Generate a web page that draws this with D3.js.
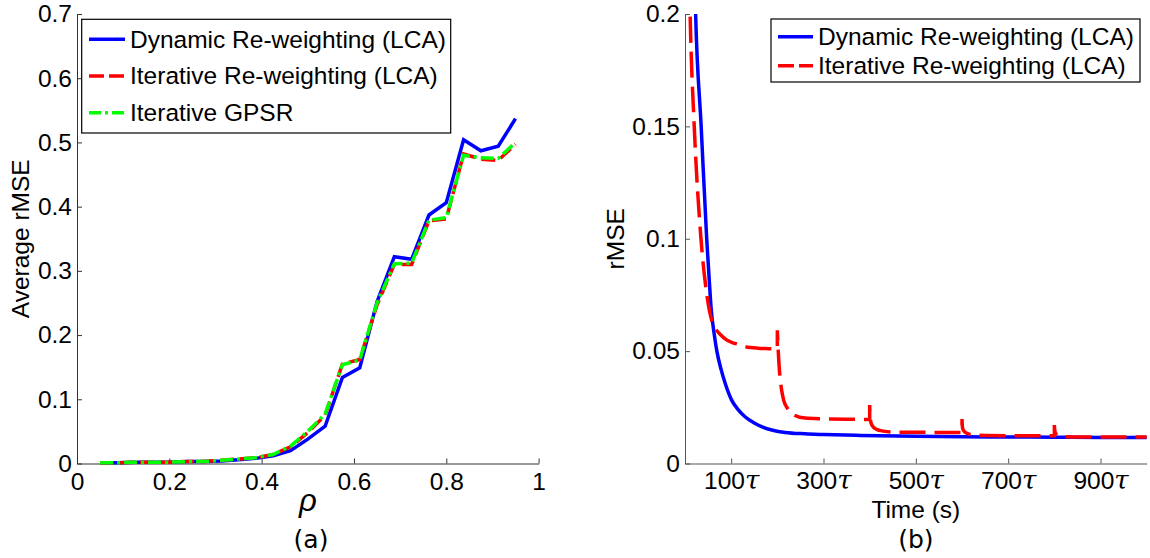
<!DOCTYPE html>
<html>
<head>
<meta charset="utf-8">
<script src="https://cdn.jsdelivr.net/npm/d3@7"></script>
<style>
  html, body { margin: 0; padding: 0; background: #fff; }
  svg { display: block; }
</style>
</head>
<body>
<script>
// ---------------- DATA ----------------
// Panel (a)
const rho = [0.05, 0.0875, 0.125, 0.1625, 0.2, 0.2375, 0.275, 0.3125, 0.35, 0.3875, 0.425, 0.4625,
             0.5, 0.5375, 0.575, 0.6125, 0.65, 0.6875, 0.725, 0.7625, 0.8, 0.8375, 0.875, 0.9125, 0.95];
const dynamicA = [0.001, 0.001, 0.002, 0.002, 0.002, 0.003, 0.003, 0.004, 0.006, 0.008, 0.012, 0.020,
                  0.038, 0.058, 0.134, 0.149, 0.252, 0.322, 0.318, 0.387, 0.406, 0.504, 0.487, 0.494, 0.537];
const iterativeA = [0.001, 0.001, 0.002, 0.002, 0.002, 0.003, 0.003, 0.005, 0.007, 0.009, 0.014, 0.026,
                    0.048, 0.075, 0.155, 0.162, 0.247, 0.310, 0.310, 0.378, 0.381, 0.482, 0.474, 0.472, 0.497];
const gpsrA = [0.001, 0.001, 0.002, 0.002, 0.002, 0.003, 0.003, 0.005, 0.007, 0.009, 0.014, 0.027,
               0.050, 0.077, 0.154, 0.161, 0.250, 0.311, 0.312, 0.379, 0.383, 0.480, 0.476, 0.475, 0.500];
const xTicksA = [0, 0.2, 0.4, 0.6, 0.8, 1];
const yTicksA = [0, 0.1, 0.2, 0.3, 0.4, 0.5, 0.6, 0.7];
const legendA = ["Dynamic Re-weighting (LCA)", "Iterative Re-weighting (LCA)", "Iterative GPSR"];

// Panel (b)  (time in units of tau)
const dynT = [18, 23, 35, 47, 53, 57, 63, 69, 78, 87, 101, 115, 130, 150, 167, 190, 217, 260, 300, 380, 500, 600, 700, 800, 900, 1000];
const dynV = [0.245, 0.2, 0.15, 0.1, 0.08, 0.068, 0.058, 0.05, 0.042, 0.0357, 0.0282, 0.024, 0.0208, 0.018, 0.0163,
              0.0148, 0.0138, 0.0132, 0.0129, 0.0125, 0.0121, 0.0119, 0.0118, 0.0117, 0.0116, 0.0116];
const itT = [8, 11, 20, 34.6, 47, 57.7, 66, 76, 90, 108, 130, 158, 180, 200,
             200, 202, 204, 209, 214, 222, 237, 260, 300, 350, 400,
             400, 401, 403, 408, 415, 430, 450, 500, 600,
             600, 601, 604, 612, 625, 650, 700, 800,
             800, 801, 804, 812, 840, 900, 1000];
const itV = [0.23, 0.2, 0.15, 0.1, 0.0755, 0.0638, 0.06, 0.0575, 0.055, 0.0534, 0.052, 0.0513, 0.0511, 0.051,
             0.0593, 0.05, 0.043, 0.033, 0.028, 0.0245, 0.0215, 0.0202, 0.0199, 0.0197, 0.0196,
             0.026, 0.021, 0.018, 0.0162, 0.0152, 0.0144, 0.014, 0.0139, 0.0138,
             0.0198, 0.016, 0.0145, 0.0133, 0.0127, 0.0125, 0.0124, 0.0124,
             0.0171, 0.0145, 0.013, 0.012, 0.0118, 0.0118, 0.0118];
const xTicksB = [100, 300, 500, 700, 900];
const yTicksB = [0, 0.05, 0.1, 0.15, 0.2];
const legendB = ["Dynamic Re-weighting (LCA)", "Iterative Re-weighting (LCA)"];

// ---------------- DRAW ----------------
const FONT = "'Liberation Sans', Arial, Helvetica, sans-serif";
const FS = 24.5;
const svg = d3.select("body").append("svg").attr("width", 1150).attr("height", 558);
svg.append("rect").attr("width", 1150).attr("height", 558).attr("fill", "#fff");

function styleAxis(g, col) {
  g.attr("font-size", FS).attr("font-family", FONT).attr("color", col);
  g.selectAll("text").attr("fill", "#000");
}

// ===== Panel (a) =====
const xA = d3.scaleLinear().domain([0, 1]).range([77, 538.6]);
const yA = d3.scaleLinear().domain([0, 0.7]).range([463.5, 14]);

const gxA = svg.append("g").attr("transform", `translate(0,${yA(0)})`)
  .call(d3.axisBottom(xA).tickValues(xTicksA).tickSize(-5).tickSizeOuter(0).tickPadding(9)
        .tickFormat(d => d3.format("~g")(d)));
styleAxis(gxA, "#333");
const gyA = svg.append("g").attr("transform", `translate(${xA(0)},0)`)
  .call(d3.axisLeft(yA).tickValues(yTicksA).tickSize(-5).tickSizeOuter(0).tickPadding(5)
        .tickFormat(d => d3.format("~g")(d)));
styleAxis(gyA, "#333");

const lineA = d3.line().x(d => xA(d[0])).y(d => yA(d[1]));
const seriesA = [
  {v: dynamicA, color: "#0000ff", dash: null},
  {v: iterativeA, color: "#ff0000", dash: "14,6"},
  {v: gpsrA, color: "#00ff00", dash: "13,4,3,4"}
];
seriesA.forEach(s => {
  svg.append("path").datum(rho.map((r, i) => [r, s.v[i]]))
    .attr("d", lineA).attr("fill", "none").attr("stroke", s.color)
    .attr("stroke-width", 3.5).attr("stroke-linejoin", "miter")
    .attr("stroke-dasharray", s.dash);
});

// legend (a)
const legA = svg.append("g");
legA.append("rect").attr("x", 81.7).attr("y", 19.3).attr("width", 369).attr("height", 113.7)
  .attr("fill", "#fff").attr("stroke", "#000").attr("stroke-width", 1.2);
const legDashA = [null, "15,5", "12,4,3,4"];
const legColA = ["#0000ff", "#ff0000", "#00ff00"];
legendA.forEach((t, i) => {
  const yy = 39.3 + i * 36.7;
  legA.append("line").attr("x1", 89).attr("x2", 125).attr("y1", yy).attr("y2", yy)
    .attr("stroke", legColA[i]).attr("stroke-width", 3.5).attr("stroke-dasharray", legDashA[i]);
  legA.append("text").attr("x", 130).attr("y", yy + 8.4).text(t)
    .attr("font-family", FONT).attr("font-size", FS);
});

svg.append("text").attr("transform", `translate(29,${(yA(0) + yA(0.7)) / 2}) rotate(-90)`)
  .attr("text-anchor", "middle").attr("font-family", FONT).attr("font-size", FS).text("Average rMSE");
svg.append("text").attr("x", 308).attr("y", 511).attr("text-anchor", "middle")
  .attr("font-family", FONT).attr("font-style", "italic").attr("font-size", 31).text("ρ");
svg.append("text").attr("x", 311).attr("y", 548).attr("text-anchor", "middle")
  .attr("font-family", "'DejaVu Sans', sans-serif").attr("font-size", 25).text("(a)");

// ===== Panel (b) =====
const xB = d3.scaleLinear().domain([0, 1000]).range([685, 1146.7]);
const yB = d3.scaleLinear().domain([0, 0.2]).range([463.5, 14]);

const gxB = svg.append("g").attr("transform", `translate(0,${yB(0)})`)
  .call(d3.axisBottom(xB).tickValues(xTicksB).tickSize(-5).tickSizeOuter(0).tickPadding(8));
styleAxis(gxB, "#555");
gxB.selectAll(".tick text").each(function(d) {
  const t = d3.select(this);
  t.text(null);
  t.append("tspan").text(d);
  t.append("tspan").attr("font-family", "'DejaVu Serif', 'Liberation Serif', serif")
    .attr("font-style", "italic").attr("font-size", 26).text("τ");
});
const gyB = svg.append("g").attr("transform", `translate(${xB(0)},0)`)
  .call(d3.axisLeft(yB).tickValues(yTicksB).tickSize(-5).tickSizeOuter(0).tickPadding(5)
        .tickFormat(d => d3.format("~g")(d)));
styleAxis(gyB, "#555");

svg.append("clipPath").attr("id", "clipB").append("rect")
  .attr("x", xB(0)).attr("y", yB(0.2)).attr("width", xB(1000) - xB(0) + 2).attr("height", yB(0) - yB(0.2));

const lineB = d3.line().x(d => xB(d[0])).y(d => yB(d[1])).curve(d3.curveMonotoneX);
svg.append("path").datum(dynT.map((t, i) => [t, dynV[i]]))
  .attr("d", lineB).attr("fill", "none").attr("stroke", "#0000ff").attr("stroke-width", 3.5)
  .attr("clip-path", "url(#clipB)");

// split iterative series at the reset instants, then join into one continuous path
const segs = [];
let cur = [];
itT.forEach((t, i) => {
  if (i > 0 && t === itT[i - 1]) { segs.push(cur); cur = []; }
  cur.push([t, itV[i]]);
});
segs.push(cur);
const dRed = segs.map((s, i) => {
  const d = lineB(s);
  return i === 0 ? d : "L" + d.slice(1);
}).join("");
svg.append("path").attr("d", dRed).attr("fill", "none").attr("stroke", "#ff0000")
  .attr("stroke-width", 3.5).attr("stroke-dasharray", "26,9").attr("clip-path", "url(#clipB)");

// legend (b)
const legB = svg.append("g");
legB.append("rect").attr("x", 771).attr("y", 19).attr("width", 369).attr("height", 63)
  .attr("fill", "#fff").attr("stroke", "#000").attr("stroke-width", 1.2);
const legDashB = [null, "16,5"];
const legColB = ["#0000ff", "#ff0000"];
legendB.forEach((t, i) => {
  const yy = 36.7 + i * 29;
  legB.append("line").attr("x1", 778).attr("x2", 813).attr("y1", yy).attr("y2", yy)
    .attr("stroke", legColB[i]).attr("stroke-width", 3.5).attr("stroke-dasharray", legDashB[i]);
  legB.append("text").attr("x", 818).attr("y", yy + 8.6).text(t)
    .attr("font-family", FONT).attr("font-size", FS);
});

svg.append("text").attr("transform", `translate(624,${(yB(0) + yB(0.2)) / 2}) rotate(-90)`)
  .attr("text-anchor", "middle").attr("font-family", FONT).attr("font-size", FS).text("rMSE");
svg.append("text").attr("x", (xB(0) + xB(1000)) / 2).attr("y", 518).attr("text-anchor", "middle")
  .attr("font-family", FONT).attr("font-size", FS).text("Time (s)");
svg.append("text").attr("x", (xB(0) + xB(1000)) / 2).attr("y", 548).attr("text-anchor", "middle")
  .attr("font-family", "'DejaVu Sans', sans-serif").attr("font-size", 25).text("(b)");
</script>
</body>
</html>
